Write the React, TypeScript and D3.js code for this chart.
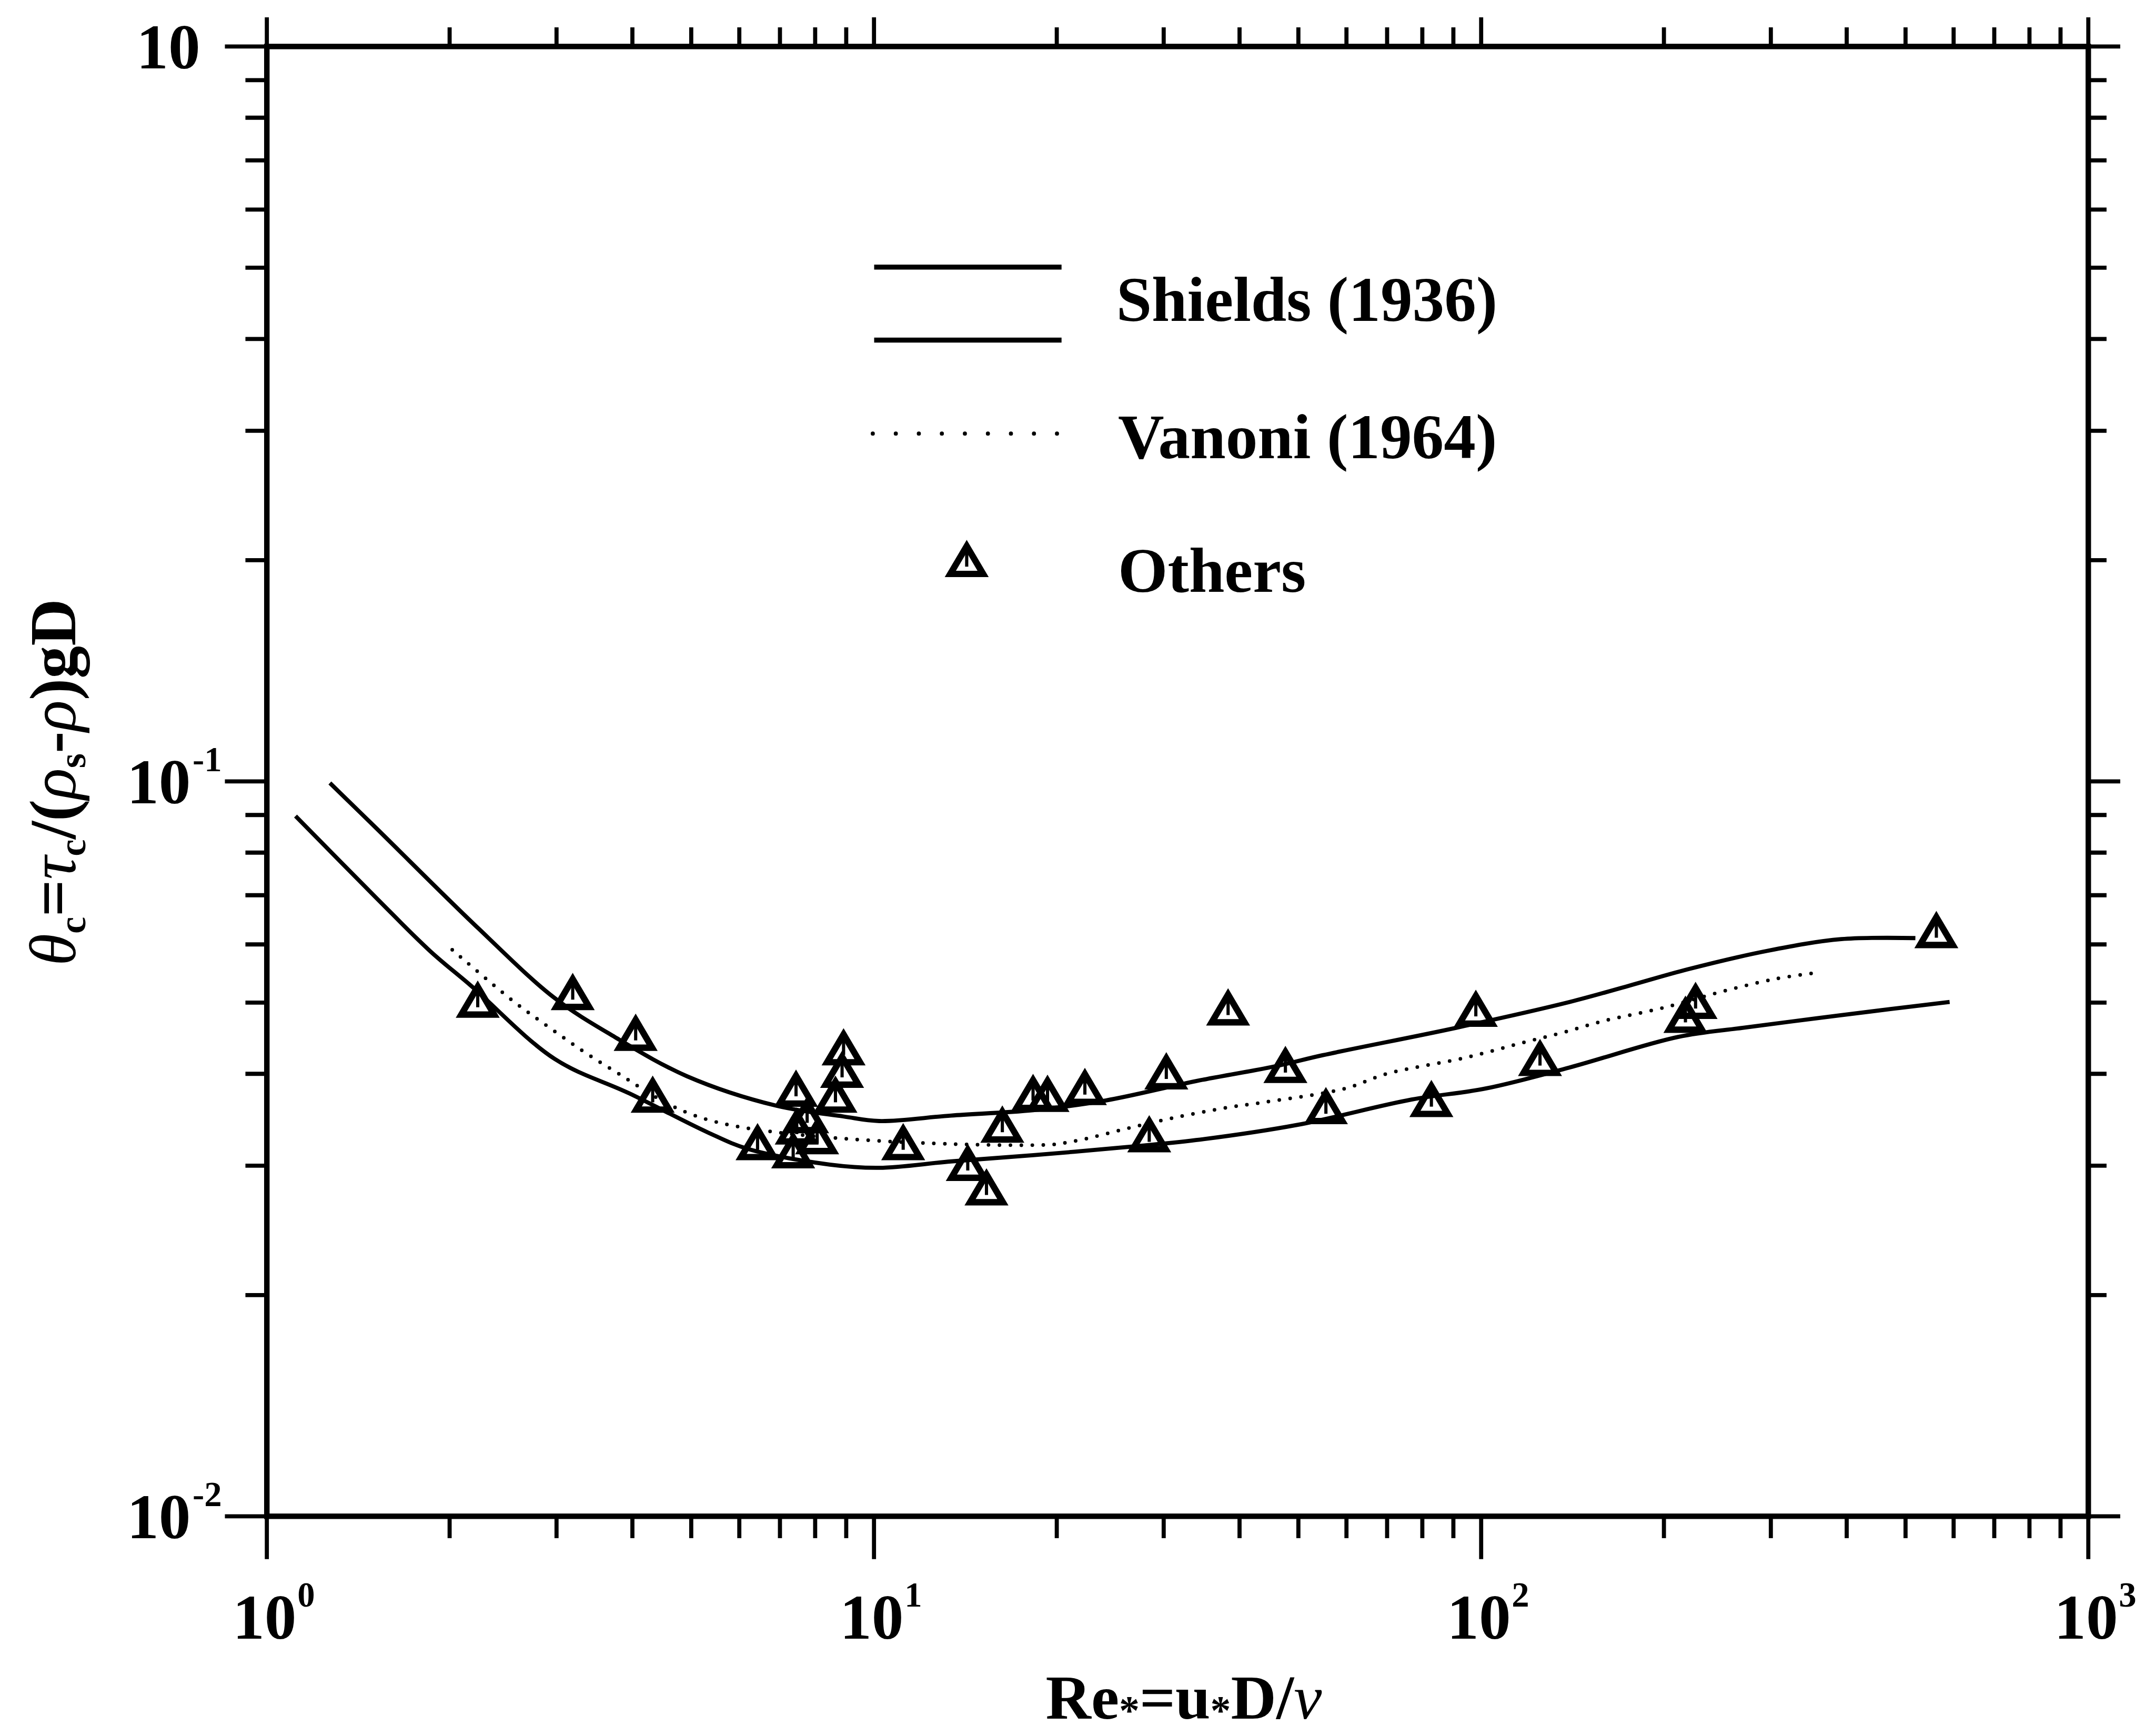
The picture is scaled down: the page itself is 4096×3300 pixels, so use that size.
import React from "react";
import * as d3 from "d3";

// ---- data ----
const shieldsUpperRe = [1.27, 1.52, 2.23, 2.98, 3.74, 4.92, 6.9, 8.9, 10.2, 13.4, 18.3, 24.1, 33.9, 46.1, 54.8, 90.9, 139.8, 175, 219, 296, 392, 519];
const shieldsUpperTheta = [0.0995, 0.0861, 0.0631, 0.0507, 0.0449, 0.0397, 0.0362, 0.035, 0.0345, 0.0351, 0.0357, 0.0368, 0.0391, 0.041, 0.0424, 0.0462, 0.0501, 0.0527, 0.0555, 0.0588, 0.061, 0.0612];

const shieldsLowerRe = [1.115, 1.52, 1.86, 2.17, 2.98, 3.96, 5.32, 6.21, 8.46, 10.2, 13.4, 18.3, 26.1, 33.9, 49.9, 76.8, 101.7, 139.8, 211, 269.5, 357, 472, 591];
const shieldsLowerTheta = [0.0897, 0.0692, 0.0587, 0.0527, 0.0419, 0.0376, 0.0333, 0.0316, 0.0301, 0.0298, 0.0304, 0.031, 0.0318, 0.0325, 0.0341, 0.0369, 0.0382, 0.0408, 0.0449, 0.0462, 0.0476, 0.049, 0.0501];

const vanoniRe = [2.02, 2.51, 2.77, 3.69, 5.35, 18.85, 21.4, 26.1, 30.9, 38.3, 44, 59.7, 69.9, 94.5, 118.3, 136, 159, 199.6, 254.6, 307, 357];
const vanoniTheta = [0.059, 0.0507, 0.0477, 0.0406, 0.0346, 0.032, 0.0324, 0.0337, 0.0348, 0.036, 0.0366, 0.0382, 0.04, 0.0421, 0.0442, 0.0455, 0.0472, 0.0492, 0.052, 0.0539, 0.0549];

const othersRe = [2.225, 3.19, 4.05, 4.32, 6.43, 7.36, 7.44, 7.46, 7.76, 8.06, 8.64, 8.86, 8.91, 11.17, 14.27, 15.32, 16.27, 18.28, 19.31, 22.25, 28.4, 30.3, 38.3, 47.6, 55.5, 82.8, 98, 125, 217, 225.5, 562];
const othersTheta = [0.0497, 0.0509, 0.0448, 0.0369, 0.0318, 0.031, 0.0376, 0.0334, 0.0346, 0.0324, 0.0369, 0.0399, 0.0428, 0.0318, 0.0298, 0.0276, 0.0336, 0.0371, 0.037, 0.0378, 0.0326, 0.0397, 0.0485, 0.0405, 0.0356, 0.0364, 0.0483, 0.0414, 0.0474, 0.0495, 0.0618];

const xTickValues = [1, 10, 100, 1000];
const xTickBase = ["10", "10", "10", "10"];
const xTickSup = ["0", "1", "2", "3"];
const yTickValues = [1, 0.1, 0.01];
const yTickBase = ["10", "10", "10"];
const yTickSup = ["", "-1", "-2"];

const legendLabels = ["Shields (1936)", "Vanoni (1964)", "Others"];

const FONT = "'Liberation Serif', 'Times New Roman', Times, serif";

function zip(a: number[], b: number[]): [number, number][] {
  return a.map((v, i) => [v, b[i]]);
}

const TRI = "M0,-39 L36,22 L-36,22 Z";

function Triangle({ cx, cy }: { cx: number; cy: number }) {
  return (
    <g transform={`translate(${cx},${cy})`}>
      <path d={TRI} fill="none" stroke="#000" strokeWidth={14} strokeLinejoin="miter" />
      <line x1={0} y1={-26} x2={0} y2={6} stroke="#000" strokeWidth={7} />
    </g>
  );
}

export default function App() {
  const W = 4726;
  const H = 3808;
  const left = 585, right = 4580, top = 102, bottom = 3326;
  const x = d3.scaleLog().domain([1, 1000]).range([left, right]);
  const y = d3.scaleLog().domain([0.01, 1]).range([bottom, top]);

  const line = d3
    .line<[number, number]>()
    .x((d) => x(d[0]))
    .y((d) => y(d[1]))
    .curve(d3.curveCatmullRom.alpha(0.5));

  const isMajor = (v: number) => Math.abs(Math.log10(v) - Math.round(Math.log10(v))) < 1e-9;
  const xt = x.ticks();
  const yt = y.ticks();

  const tickW = 9;
  const frameW = 12;

  return (
    <svg
      width={4096}
      height={3300}
      viewBox={`0 0 ${W} ${H}`}
      style={{ position: "absolute", left: 0, top: 0, background: "#fff" }}
    >
      <rect x={0} y={0} width={W} height={H} fill="#fff" />
      {/* ticks */}
      <g stroke="#000" strokeWidth={tickW}>
        {xt.map((v, i) => {
          const m = isMajor(v);
          return (
            <g key={"xt" + i}>
              <line x1={x(v)} x2={x(v)} y1={bottom} y2={bottom + (m ? 94 : 48)} />
              <line x1={x(v)} x2={x(v)} y1={top} y2={top - (m ? 64 : 42)} />
            </g>
          );
        })}
        {yt.map((v, i) => {
          const m = isMajor(v);
          return (
            <g key={"yt" + i}>
              <line x1={left} x2={left - (m ? 92 : 47)} y1={y(v)} y2={y(v)} />
              <line x1={right} x2={right + (m ? 70 : 40)} y1={y(v)} y2={y(v)} />
            </g>
          );
        })}
      </g>
      {/* frame */}
      <rect x={left} y={top} width={right - left} height={bottom - top} fill="none" stroke="#000" strokeWidth={frameW} />

      {/* tick labels */}
      <g fontFamily={FONT} fontWeight="bold" fill="#000">
        {xTickValues.map((v, i) => (
          <g key={"xl" + i}>
            <text x={x(v) - 5} y={3595} fontSize={140} textAnchor="middle">
              {xTickBase[i]}
            </text>
            <text x={x(v) - 5 + 72} y={3524} fontSize={77}>
              {xTickSup[i]}
            </text>
          </g>
        ))}
        {yTickValues.map((v, i) =>
          yTickSup[i] === "" ? (
            <text key={"yl" + i} x={439} y={y(v) + 48} fontSize={140} textAnchor="end">
              {yTickBase[i]}
            </text>
          ) : (
            <g key={"yl" + i}>
              <text x={418} y={y(v) + 48} fontSize={140} textAnchor="end">
                {yTickBase[i]}
              </text>
              <text x={422} y={y(v) - 22} fontSize={77}>
                {yTickSup[i]}
              </text>
            </g>
          )
        )}
      </g>

      {/* axis titles */}
      <text x={2596} y={3770} fontFamily={FONT} fontWeight="bold" fontSize={138} textAnchor="middle" fill="#000">
        <tspan>Re</tspan>
        <tspan fontSize={90} dy={12}>*</tspan>
        <tspan dy={-12}>=u</tspan>
        <tspan fontSize={90} dy={12}>*</tspan>
        <tspan dy={-12}>D/</tspan>
        <tspan fontStyle="italic" fontWeight="normal">ν</tspan>
      </text>
      <text
        transform="translate(165,1716) rotate(-90)"
        fontFamily={FONT}
        fontWeight="bold"
        fontSize={143}
        textAnchor="middle"
        fill="#000"
      >
        <tspan fontStyle="italic" fontWeight="normal">θ</tspan>
        <tspan fontSize={84} dy={22}>c</tspan>
        <tspan dy={-22}>=</tspan>
        <tspan fontStyle="italic" fontWeight="normal">τ</tspan>
        <tspan fontSize={84} dy={22}>c</tspan>
        <tspan dy={-22}>/(</tspan>
        <tspan fontStyle="italic" fontWeight="normal">ρ</tspan>
        <tspan fontSize={84} dy={22}>s</tspan>
        <tspan dy={-22}>-</tspan>
        <tspan fontStyle="italic" fontWeight="normal">ρ</tspan>
        <tspan>)gD</tspan>
      </text>

      {/* curves */}
      <path d={line(zip(shieldsUpperRe, shieldsUpperTheta)) || ""} fill="none" stroke="#000" strokeWidth={9} />
      <path d={line(zip(shieldsLowerRe, shieldsLowerTheta)) || ""} fill="none" stroke="#000" strokeWidth={9} />
      <path
        d={line(zip(vanoniRe, vanoniTheta)) || ""}
        fill="none"
        stroke="#000"
        strokeWidth={8}
        strokeLinecap="round"
        strokeDasharray="0 24"
      />

      {/* points */}
      {othersRe.map((r, i) => (
        <Triangle key={"p" + i} cx={x(r)} cy={y(othersTheta[i])} />
      ))}

      {/* legend */}
      <g>
        <line x1={1917} x2={2328} y1={586} y2={586} stroke="#000" strokeWidth={11} />
        <line x1={1917} x2={2328} y1={746} y2={746} stroke="#000" strokeWidth={11} />
        <line x1={1914} x2={2320} y1={951} y2={951} stroke="#000" strokeWidth={9} strokeLinecap="round" strokeDasharray="0 50.5" />
        <Triangle cx={2120} cy={1237} />
        <g fontFamily={FONT} fontWeight="bold" fontSize={140} fill="#000">
          <text x={2448} y={704}>{legendLabels[0]}</text>
          <text x={2452} y={1005}>{legendLabels[1]}</text>
          <text x={2452} y={1298}>{legendLabels[2]}</text>
        </g>
      </g>
    </svg>
  );
}
